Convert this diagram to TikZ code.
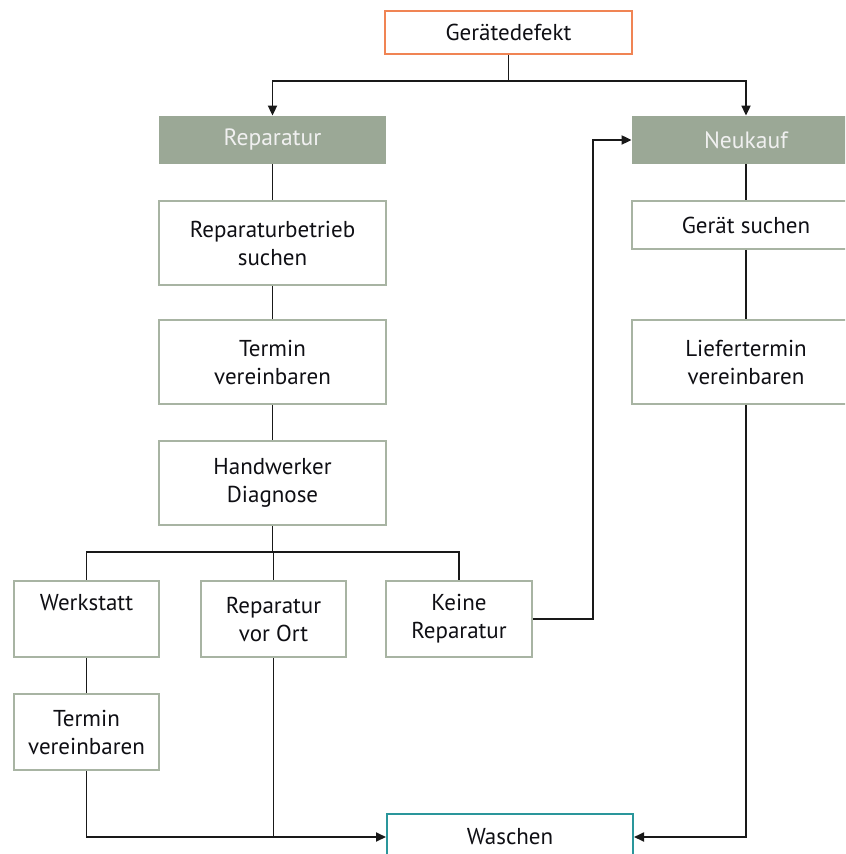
\documentclass[tikz,border=0pt]{standalone}
\usepackage{fontspec}
\setmainfont{PT Sans}
\usepackage{xcolor}
\usepackage{tikz}
\usetikzlibrary{positioning,calc,arrows.meta}

\definecolor{boxgreen}{RGB}{155,168,150}
\definecolor{boxline}{RGB}{168,180,163}
\definecolor{defektline}{RGB}{240,132,84}
\definecolor{waschline}{RGB}{42,150,155}
\definecolor{txt}{RGB}{15,15,20}

\tikzset{
  stepbox/.style={draw=boxline,line width=1pt,fill=white,align=center,text=txt,
    font=\fontsize{11.5}{14}\selectfont,inner sep=0pt},
  headbox/.style={fill=boxgreen,align=center,text=white!94!black,
    font=\fontsize{11.8}{14}\selectfont,inner sep=0pt},
  conn/.style={line width=0.9pt,black!90},
  arr/.style={conn,-{Triangle[length=5pt,width=4.5pt]}}
}

\begin{document}
\begin{tikzpicture}[x=0.5pt,y=-0.5pt]
\clip (0,0) rectangle (845,854);
\fill[white] (0,0) rectangle (845,854);

% top
\node[stepbox,draw=defektline,minimum width=123.5pt,minimum height=21.5pt] (defekt) at (508.5,32.5) {Gerätedefekt};

% left column: Reparatur
\node[headbox,minimum width=113.5pt,minimum height=24pt] (rep) at (272.5,140) {Reparatur};
\node[stepbox,minimum width=113.5pt,minimum height=42pt] (betrieb) at (272.5,243) {Reparaturbetrieb\\suchen};
\node[stepbox,minimum width=113.5pt,minimum height=42pt] (termin) at (272.5,362) {Termin\\vereinbaren};
\node[stepbox,minimum width=113.5pt,minimum height=42pt] (diagnose) at (272.5,483) {Handwerker\\Diagnose};

% right column: Neukauf
\node[headbox,minimum width=114pt,minimum height=24pt] (neu) at (746,140) {Neukauf};
\node[stepbox,minimum width=114pt,minimum height=24pt] (suchen) at (746,225) {Gerät suchen};
\node[stepbox,minimum width=114pt,minimum height=42pt] (liefer) at (746,362) {Liefertermin\\vereinbaren};

% diagnosis outcomes
\node[stepbox,minimum width=72.5pt,minimum height=38pt] (werkstatt) at (86.5,619) {Werkstatt\\\phantom{g}};
\node[stepbox,minimum width=72.5pt,minimum height=38pt] (vorort) at (273.5,619) {Reparatur\\vor Ort};
\node[stepbox,minimum width=73pt,minimum height=38pt] (keine) at (459,619) {Keine\\Reparatur};
\node[stepbox,minimum width=72.5pt,minimum height=38pt] (termin2) at (86.5,732) {Termin\\vereinbaren};

% bottom
\node[stepbox,draw=waschline,minimum width=123pt,minimum height=23pt] (waschen) at (510,837) {Waschen};

% connectors
\draw[arr] (defekt.south) -- ++(0,26) -| (rep.north);
\draw[arr] (defekt.south) -- ++(0,26) -| (neu.north);
\draw[conn] (rep) -- (betrieb) -- (termin) -- (diagnose);
\draw[conn] (neu) -- (suchen) -- (liefer);
\draw[conn] (diagnose.south) -- ++(0,26) -| (werkstatt.north);
\draw[conn] (diagnose.south) -- ++(0,26) -| (vorort.north);
\draw[conn] (diagnose.south) -- ++(0,26) -| (keine.north);
\draw[arr] (keine.east) -- ++(60,0) |- (neu.west);
\draw[conn] (werkstatt) -- (termin2);
\draw[arr] (termin2.south) |- (waschen.west);
\draw[conn] (vorort.south) -- (vorort.south |- waschen.west);
\draw[arr] (liefer.south) |- (waschen.east);
\end{tikzpicture}
\end{document}
